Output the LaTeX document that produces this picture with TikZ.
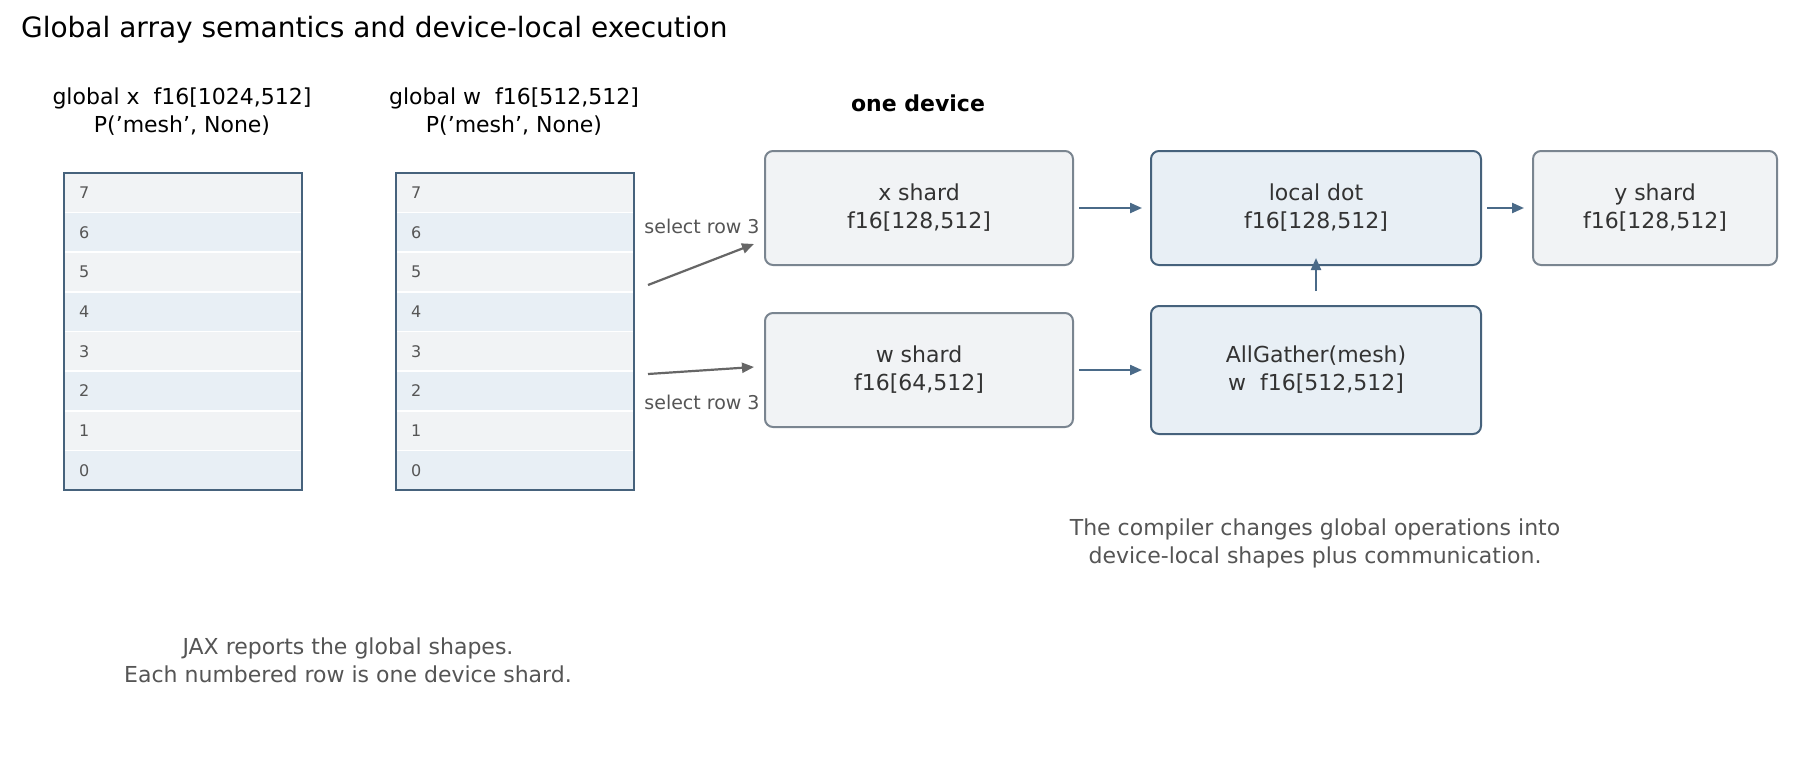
\documentclass[tikz,border=0pt]{standalone}
\usepackage{fontspec}
\setmainfont{DejaVu Sans}
\usetikzlibrary{arrows.meta}
\definecolor{rowg}{HTML}{F1F3F5}
\definecolor{rowb}{HTML}{E8EFF5}
\definecolor{bordb}{HTML}{46627C}
\definecolor{bordg}{HTML}{7A8590}
\definecolor{txt}{HTML}{333333}
\definecolor{cap}{HTML}{555555}
\definecolor{arrb}{HTML}{4A6A88}
\tikzset{
 gbox/.style={draw=bordg,fill=rowg,line width=1pt,rounded corners=4pt,text=txt,font=\fontsize{11}{14}\selectfont,align=center},
 bbox/.style={draw=bordb,fill=rowb,line width=1pt,rounded corners=4pt,text=txt,font=\fontsize{11}{14}\selectfont,align=center},
 farr/.style={-{Triangle[length=6pt,width=5pt]},draw=arrb,line width=1.1pt},
 sarr/.style={-{Triangle[length=6pt,width=5pt]},draw=black!60,line width=1.1pt},
 rowlab/.style={font=\fontsize{8}{10}\selectfont,text=cap,anchor=west},
 hdr/.style={font=\fontsize{11}{14}\selectfont,align=center},
 captxt/.style={font=\fontsize{11}{14}\selectfont,align=center,text=cap},
}
\begin{document}
\begin{tikzpicture}[x=0.5pt,y=-0.5pt]
\useasboundingbox[fill=white] (0,0) rectangle (1814,765);
\node[anchor=west,font=\fontsize{14}{17}\selectfont] (title) at (14,30) {Global array semantics and device-local execution};
\node[hdr] (hx) at (182,112) {global x\ \ f16[1024,512]\\P('mesh', None)};
\node[hdr] (hw) at (514,112) {global w\ \ f16[512,512]\\P('mesh', None)};
\node[font=\bfseries\fontsize{11}{14}\selectfont] (od) at (918,103) {one device};
% arrays
\foreach \x/\nm in {64/ax,396/aw}{
 \foreach \i in {0,...,7}{
  \pgfmathsetmacro{\yt}{490-(\i+1)*39.625}
  \ifodd\i \def\fc{rowg}\else \def\fc{rowb}\fi
  \fill[fill=\fc,draw=white,line width=0.8pt] (\x,\yt) rectangle (\x+238,\yt+39.625);
  \node[rowlab] (\nm r\i) at (\x+8,\yt+19.8) {\i};
 }
 \draw[bordb,line width=1.3pt] (\x,173) rectangle (\x+238,490);
}
\coordinate (s1) at (648,285);
\coordinate (s2) at (648,374);
% boxes
\node[gbox,minimum width=154pt,minimum height=57pt] (xs) at (919,208) {x shard\\f16[128,512]};
\node[bbox,minimum width=165pt,minimum height=57pt] (ld) at (1316,208) {local dot\\f16[128,512]};
\node[gbox,minimum width=122pt,minimum height=57pt] (ys) at (1655,208) {y shard\\f16[128,512]};
\node[gbox,minimum width=154pt,minimum height=57pt] (ws) at (919,370) {w shard\\f16[64,512]};
\node[bbox,minimum width=165pt,minimum height=64pt] (ag) at (1316,370) {AllGather(mesh)\\w\ \ f16[512,512]};
\draw[sarr] (s1) -- ([xshift=-5pt,yshift=-18pt]xs.west);
\draw[sarr] (s2) -- ([xshift=-5pt,yshift=1.5pt]ws.west);
\node[font=\fontsize{9.5}{12}\selectfont,text=cap] (l1) at (702,226) {select row 3};
\node[font=\fontsize{9.5}{12}\selectfont,text=cap] (l2) at (702,402) {select row 3};
\draw[farr] ([xshift=2.5pt]xs.east) -- ([xshift=-4pt]ld.west);
\draw[farr] ([xshift=2.5pt]ld.east) -- ([xshift=-4pt]ys.west);
\draw[farr] ([xshift=2.5pt]ws.east) -- ([xshift=-4pt]ag.west);
\draw[farr] ([yshift=7pt]ag.north) -- ([yshift=4pt]ld.south);
\node[captxt] (c1) at (1315,543) {The compiler changes global operations into\\device-local shapes plus communication.};
\node[captxt] (c2) at (348,660) {JAX reports the global shapes.\\Each numbered row is one device shard.};
\end{tikzpicture}
\end{document}
